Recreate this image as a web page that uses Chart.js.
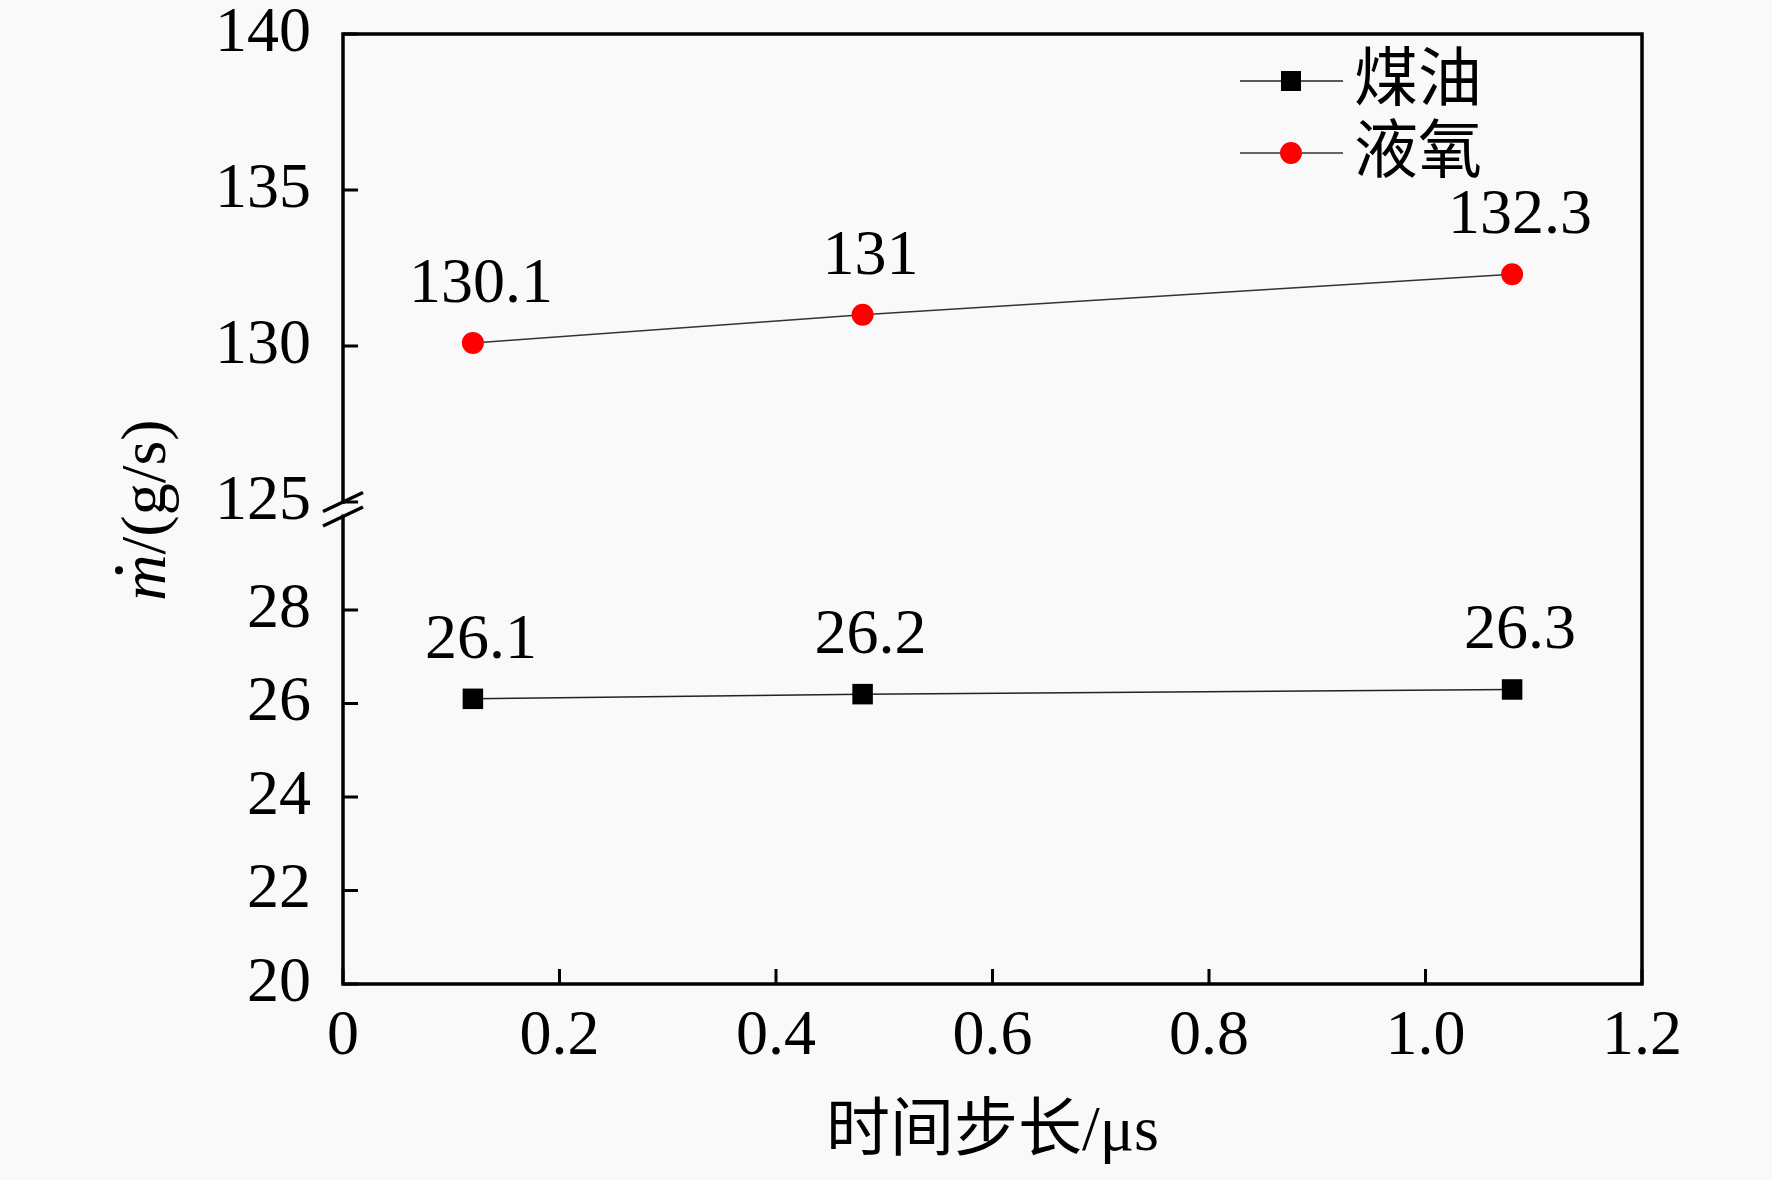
<!DOCTYPE html>
<html>
<head>
<meta charset="utf-8">
<script src="https://cdn.jsdelivr.net/npm/chart.js@4.4.0/dist/chart.umd.min.js"></script>
<style>
  html, body { margin: 0; padding: 0; background: #f9f9f9; }
</style>
</head>
<body>
<canvas id="myChart" width="1772" height="1180"></canvas>
<script>
// values
const timeSteps = [0.12, 0.48, 1.08];
const kerosene = [26.1, 26.2, 26.3];
const lox = [130.1, 131, 132.3];
const seriesNames = ["煤油", "液氧"];
const xTicks = [0, 0.2, 0.4, 0.6, 0.8, 1.0, 1.2];
const lowerTicks = [20, 22, 24, 26, 28];
const upperTicks = [125, 130, 135, 140];
const xTitle = "时间步长/μs";

const FONT = '"Liberation Serif", "Times New Roman", "Noto Sans CJK SC", serif';
const BG = "#f9f9f9";
const ctx = document.getElementById("myChart").getContext("2d");

const toPoints = (ys) => timeSteps.map((x, i) => ({ x: x, y: ys[i] }));

const decorations = {
  id: "decorations",
  beforeDraw(chart) {
    const c = chart.ctx;
    c.save();
    c.fillStyle = BG;
    c.fillRect(0, 0, chart.width, chart.height);
    c.restore();
  },
  afterDatasetsDraw(chart) {
    const c = chart.ctx;
    c.save();
    c.font = "64px " + FONT;
    c.fillStyle = "#000";
    c.textAlign = "center";
    c.textBaseline = "middle";
    chart.data.datasets.forEach((ds, i) => {
      chart.getDatasetMeta(i).data.forEach((pt, j) => {
        c.fillText(String(ds.data[j].y), pt.x + 8, pt.y - 58);
      });
    });
    c.restore();
  },
  afterDraw(chart) {
    const c = chart.ctx;
    const a = chart.chartArea;
    const sx = chart.scales.x, yl = chart.scales.y, yu = chart.scales.y2;
    c.save();
    c.strokeStyle = "#000";
    c.lineWidth = 3.5;
    c.strokeRect(a.left, a.top, a.right - a.left, a.bottom - a.top);

    // inward tick marks
    c.lineWidth = 3;
    c.beginPath();
    sx.ticks.forEach((t) => {
      const px = sx.getPixelForValue(t.value);
      c.moveTo(px, a.bottom);
      c.lineTo(px, a.bottom - 15);
    });
    [yl, yu].forEach((s) => {
      s.ticks.forEach((t) => {
        const py = s.getPixelForValue(t.value);
        c.moveTo(a.left, py);
        c.lineTo(a.left + 15, py);
      });
    });
    c.stroke();

    // axis break
    const y1 = yu.bottom;
    const y2 = yl.getPixelForValue(30);
    c.fillStyle = BG;
    c.fillRect(a.left - 3, y1 + 2, 6, y2 - y1 - 4);
    c.lineWidth = 3.5;
    c.beginPath();
    [y1, y2].forEach((yy) => {
      c.moveTo(a.left - 20, yy + 9.5);
      c.lineTo(a.left + 20, yy - 9.5);
    });
    c.stroke();

    // legend
    const rows = [81, 153];
    chart.data.datasets.forEach((ds, i) => {
      const yy = rows[i];
      c.strokeStyle = ds.borderColor;
      c.lineWidth = 1.5;
      c.beginPath();
      c.moveTo(1240, yy);
      c.lineTo(1343, yy);
      c.stroke();
      c.fillStyle = ds.pointBackgroundColor;
      if (ds.pointStyle === "rect") {
        c.fillRect(1291 - 10, yy - 10, 20, 20);
      } else {
        c.beginPath();
        c.arc(1291, yy, 11, 0, Math.PI * 2);
        c.fill();
      }
      c.fillStyle = "#000";
      c.font = "64px " + FONT;
      c.textAlign = "left";
      c.textBaseline = "middle";
      c.fillText(seriesNames[i], 1354, yy + 2);
    });

    // y axis title: italic m with dot, then /(g/s)
    c.translate(165, 510);
    c.rotate(-Math.PI / 2);
    c.fillStyle = "#000";
    c.textBaseline = "alphabetic";
    c.textAlign = "left";
    c.font = "italic 64px " + FONT;
    const mW = c.measureText("m").width;
    c.font = "64px " + FONT;
    const restW = c.measureText("/(g/s)").width;
    const x0 = -(mW + restW) / 2;
    c.font = "italic 64px " + FONT;
    c.fillText("m", x0, 0);
    c.beginPath();
    c.arc(x0 + mW * 0.66, -46, 4, 0, Math.PI * 2);
    c.fill();
    c.font = "64px " + FONT;
    c.fillText("/(g/s)", x0 + mW, 0);
    c.restore();
  },
};

const tickFont = { family: FONT, size: 64 };

const myChart = new Chart(ctx, {
  type: "line",
  data: {
    datasets: [
      {
        label: seriesNames[0],
        data: toPoints(kerosene),
        yAxisID: "y",
        borderColor: "#222",
        borderWidth: 1.5,
        pointStyle: "rect",
        pointRadius: 14.5,
        pointBackgroundColor: "#000",
        pointBorderColor: "#000",
        pointBorderWidth: 0,
      },
      {
        label: seriesNames[1],
        data: toPoints(lox),
        yAxisID: "y2",
        borderColor: "#3a3030",
        borderWidth: 1.5,
        pointStyle: "circle",
        pointRadius: 11,
        pointBackgroundColor: "#ff0000",
        pointBorderColor: "#ff0000",
        pointBorderWidth: 0,
      },
    ],
  },
  options: {
    responsive: false,
    devicePixelRatio: 1,
    animation: false,
    layout: { padding: { left: 0, top: 34, right: 130, bottom: 0 } },
    plugins: {
      legend: { display: false },
      tooltip: { enabled: false },
    },
    scales: {
      x: {
        type: "linear",
        min: 0,
        max: 1.2,
        afterBuildTicks: (s) => {
          s.ticks = xTicks.map((v) => ({ value: v }));
        },
        afterFit: (s) => {
          s.height = 196;
        },
        ticks: {
          font: tickFont,
          color: "#000",
          padding: 7,
          maxRotation: 0,
          autoSkip: false,
          callback: (v) => (v === 0 ? "0" : Number(v).toFixed(1)),
        },
        grid: { display: false },
        border: { display: false },
        title: {
          display: true,
          text: xTitle,
          color: "#000",
          font: { family: FONT, size: 64 },
          padding: { top: 0, bottom: 8 },
        },
      },
      y: {
        type: "linear",
        position: "left",
        stack: "y",
        stackWeight: 482,
        min: 20,
        max: 30.31,
        afterBuildTicks: (s) => {
          s.ticks = lowerTicks.map((v) => ({ value: v }));
        },
        afterFit: (s) => {
          s.width = 343;
          s.paddingTop = 0;
          s.paddingBottom = 0;
        },
        ticks: { font: tickFont, color: "#000", padding: 24, autoSkip: false },
        grid: { display: false },
        border: { display: false },
      },
      y2: {
        type: "linear",
        position: "left",
        stack: "y",
        stackWeight: 468,
        min: 125,
        max: 140,
        afterBuildTicks: (s) => {
          s.ticks = upperTicks.map((v) => ({ value: v }));
        },
        afterFit: (s) => {
          s.width = 343;
          s.paddingTop = 0;
          s.paddingBottom = 0;
        },
        ticks: { font: tickFont, color: "#000", padding: 24, autoSkip: false },
        grid: { display: false },
        border: { display: false },
      },
    },
  },
  plugins: [decorations],
});
</script>
</body>
</html>
